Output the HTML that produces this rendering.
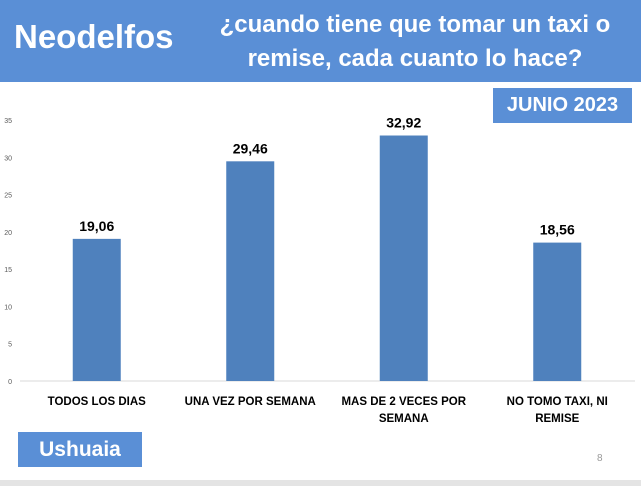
<!DOCTYPE html>
<html><head><meta charset="utf-8"><style>
body{margin:0;width:641px;height:486px;overflow:hidden;background:#fff;font-family:"Liberation Sans",sans-serif;position:relative}
.hdr{position:absolute;left:0;top:0;width:641px;height:82px;background:#5a8fd6}
.t1{position:absolute;left:14px;top:18px;color:#fff;font-size:33px;font-weight:bold}
.t2{position:absolute;left:205px;top:8px;width:420px;text-align:center;color:#fff;font-size:24px;font-weight:bold;line-height:34px}
.box{position:absolute;background:#5a8fd6;color:#fff;font-weight:bold;text-align:center}
</style></head><body>
<div class="hdr"></div>
<div class="t1">Neodelfos</div>
<div class="t2">¿cuando tiene que tomar un taxi o remise, cada cuanto lo hace?</div>
<div class="box" style="left:493px;top:88px;width:139px;height:35px;line-height:35px;font-size:20px">JUNIO 2023</div>
<div class="box" style="left:18px;top:432px;width:124px;height:35px;line-height:35px;font-size:21px">Ushuaia</div>
<div style="position:absolute;left:597px;top:453px;font-size:10px;color:#999">8</div>
<div style="position:absolute;left:0;top:480px;width:641px;height:6px;background:#e4e4e4"></div>
<svg id="c" width="641" height="486" style="position:absolute;left:0;top:0"></svg>
<script>
const categories=[["TODOS LOS DIAS"],["UNA VEZ POR SEMANA"],["MAS DE 2 VECES POR","SEMANA"],["NO TOMO TAXI, NI","REMISE"]];
const values=[19.06,29.46,32.92,18.56];
const labels=["19,06","29,46","32,92","18,56"];
const ticks=[0,5,10,15,20,25,30,35];
const svg=document.getElementById('c');const NS='http://www.w3.org/2000/svg';
const y0=381,yTop=120,ymax=35;
const y=v=>y0-(y0-yTop)*v/ymax;
const x0=20,step=153.5;
const xc=i=>x0+step*(i+0.5);
function mk(t,a){const e=document.createElementNS(NS,t);for(const k in a)e.setAttribute(k,a[k]);svg.appendChild(e);return e;}
const ax=mk('line',{x1:20,x2:635,y1:y0,y2:y0,stroke:'#d9d9d9','stroke-width':1});


ticks.forEach(t=>{const e=mk('text',{x:12,y:y(t)+3,'text-anchor':'end','font-size':7,fill:'#595959','font-family':'Liberation Sans'});e.textContent=t;

});
values.forEach((v,i)=>{
const r=mk('rect',{x:xc(i)-24,y:y(v),width:48,height:y0-y(v),fill:'#4f81bd'});


const l=mk('text',{x:xc(i),y:y(v)-8,'text-anchor':'middle','font-size':14,'font-weight':'bold',fill:'#000','font-family':'Liberation Sans'});l.textContent=labels[i];


categories[i].forEach((s,j)=>{const c=mk('text',{x:xc(i),y:405+j*17,'text-anchor':'middle','font-size':11.5,'font-weight':'bold',fill:'#000','font-family':'Liberation Sans'});c.textContent=s;

});
});
</script>
</body></html>
